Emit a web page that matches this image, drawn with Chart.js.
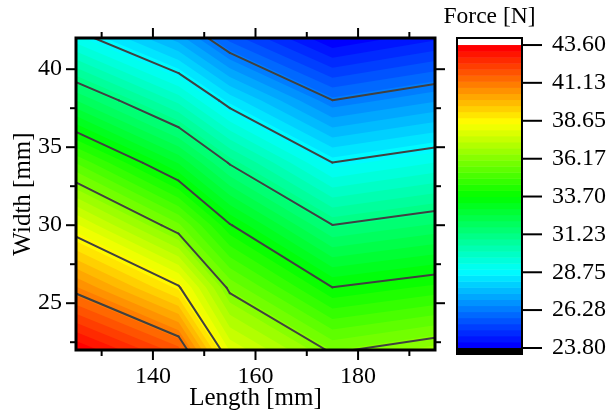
<!DOCTYPE html>
<html>
<head>
<meta charset="utf-8">
<script src="https://cdn.jsdelivr.net/npm/chart.js@4.4.1/dist/chart.umd.min.js"></script>
<style>
html, body { margin: 0; padding: 0; background: #fff; }
</style>
</head>
<body>
<canvas id="contour" width="612" height="413"></canvas>
<script>
// grid nodes of the measurement
const lengths = [125, 145, 155, 175, 195];
const widths = [22, 26, 30, 34, 38, 42];

// force [N] at each length, one row per width
const forceW22 = [43.60, 41.79, 38.00, 36.05, 36.65];
const forceW26 = [40.87, 38.74, 35.99, 33.71, 34.21];
const forceW30 = [38.15, 35.77, 33.75, 31.24, 31.78];
const forceW34 = [35.26, 32.87, 31.16, 28.76, 29.35];
const forceW38 = [32.12, 29.99, 28.41, 26.29, 26.92];
const forceW42 = [29.09, 27.16, 25.61, 23.80, 24.49];

const contourLevels = [26.28, 28.75, 31.23, 33.70, 36.17, 38.65, 41.13];
const colorTicks = [23.80, 26.28, 28.75, 31.23, 33.70, 36.17, 38.65, 41.13, 43.60];
const colorAxisRange = [23.67, 44.06];   // colour bar runs a little past the data for the end strips
const lengthTicks = [140, 160, 180];
const lengthMinor = [130, 150, 170, 190];
const widthTicks = [25, 30, 35, 40];
const widthMinor = [22.5, 27.5, 32.5, 37.5];

const nBands = 50;
const fMin = colorTicks[0], fMax = colorTicks[colorTicks.length - 1];
const fStep = (fMax - fMin) / nBands;
const grid = [forceW22, forceW26, forceW30, forceW34, forceW38, forceW42];

const FONT = 'Liberation Serif, Times New Roman, serif';

function rainbow(t) {
    const stops = [[0, 0, 255], [0, 255, 255], [0, 255, 0], [255, 255, 0], [255, 0, 0]];
    t = Math.min(Math.max(t, 0), 1) * 4;
    const k = Math.min(Math.floor(t), 3), f = t - k;
    const a = stops[k], b = stops[k + 1];
    const c = a.map((v, i) => Math.round(v + (b[i] - v) * f));
    return `rgb(${c[0]},${c[1]},${c[2]})`;
}
function bandColor(k) { return rainbow(k / (nBands - 1)); }

// region v >= level, one polygon per cell, all in one path
function levelPath(ctx, sx, sy, level) {
    ctx.beginPath();
    for (let j = 0; j < widths.length - 1; j++) {
        for (let i = 0; i < lengths.length - 1; i++) {
            const c = [[i, j], [i + 1, j], [i + 1, j + 1], [i, j + 1]];
            const pts = [];
            for (let k = 0; k < 4; k++) {
                const a = c[k], b = c[(k + 1) % 4];
                const va = grid[a[1]][a[0]], vb = grid[b[1]][b[0]];
                if (va >= level) pts.push([lengths[a[0]], widths[a[1]]]);
                if ((va >= level) !== (vb >= level)) {
                    const t = (level - va) / (vb - va);
                    pts.push([lengths[a[0]] + t * (lengths[b[0]] - lengths[a[0]]),
                              widths[a[1]] + t * (widths[b[1]] - widths[a[1]])]);
                }
            }
            if (pts.length < 3) continue;
            pts.forEach((p, n) => {
                const px = sx.getPixelForValue(p[0]), py = sy.getPixelForValue(p[1]);
                if (n === 0) ctx.moveTo(px, py); else ctx.lineTo(px, py);
            });
            ctx.closePath();
        }
    }
}

function contourSegments(level) {
    const segs = [];
    for (let j = 0; j < widths.length - 1; j++) {
        for (let i = 0; i < lengths.length - 1; i++) {
            const c = [[i, j], [i + 1, j], [i + 1, j + 1], [i, j + 1]];
            const cross = [];
            for (let k = 0; k < 4; k++) {
                const a = c[k], b = c[(k + 1) % 4];
                const va = grid[a[1]][a[0]], vb = grid[b[1]][b[0]];
                if ((va >= level) !== (vb >= level)) {
                    const t = (level - va) / (vb - va);
                    cross.push([lengths[a[0]] + t * (lengths[b[0]] - lengths[a[0]]),
                                widths[a[1]] + t * (widths[b[1]] - widths[a[1]])]);
                }
            }
            if (cross.length === 2) segs.push(cross);
            if (cross.length === 4) { segs.push([cross[0], cross[1]]); segs.push([cross[2], cross[3]]); }
        }
    }
    return segs;
}

const contourPlugin = {
    id: 'contour',
    beforeDatasetsDraw(chart) {
        const {ctx, chartArea: a, scales: {x, y}} = chart;
        ctx.save();
        ctx.beginPath();
        ctx.rect(a.left, a.top, a.right - a.left, a.bottom - a.top);
        ctx.clip();
        ctx.fillStyle = bandColor(0);
        ctx.fillRect(a.left, a.top, a.right - a.left, a.bottom - a.top);
        for (let k = 1; k < nBands; k++) {
            levelPath(ctx, x, y, fMin + k * fStep);
            ctx.fillStyle = bandColor(k);
            ctx.fill();
        }
        ctx.strokeStyle = '#404040';
        ctx.lineWidth = 2;
        ctx.lineCap = 'round';
        contourLevels.forEach(level => {
            contourSegments(level).forEach(s => {
                ctx.beginPath();
                ctx.moveTo(x.getPixelForValue(s[0][0]), y.getPixelForValue(s[0][1]));
                ctx.lineTo(x.getPixelForValue(s[1][0]), y.getPixelForValue(s[1][1]));
                ctx.stroke();
            });
        });
        ctx.restore();
    },
    afterDraw(chart) {
        const {ctx, chartArea: a, scales: {x, y, gap, cb}} = chart;
        ctx.save();
        ctx.strokeStyle = '#000';
        // ticks on all four sides
        ctx.lineWidth = 2;
        const tick = (x1, y1, x2, y2) => { ctx.beginPath(); ctx.moveTo(x1, y1); ctx.lineTo(x2, y2); ctx.stroke(); };
        lengthTicks.forEach(v => { const p = x.getPixelForValue(v); tick(p, a.bottom, p, a.bottom + 10); tick(p, a.top, p, a.top - 10); });
        lengthMinor.forEach(v => { const p = x.getPixelForValue(v); tick(p, a.bottom, p, a.bottom + 6); tick(p, a.top, p, a.top - 6); });
        widthTicks.forEach(v => { const p = y.getPixelForValue(v); tick(a.left, p, a.left - 10, p); tick(a.right, p, a.right + 10, p); });
        widthMinor.forEach(v => { const p = y.getPixelForValue(v); tick(a.left, p, a.left - 6, p); tick(a.right, p, a.right + 6, p); });
        ctx.lineWidth = 3;
        ctx.strokeRect(a.left, a.top, a.right - a.left, a.bottom - a.top);

        // colour bar, sitting in the gap box left of its axis labels
        const bx1 = gap.left + 22, bx2 = gap.left + 87;
        const top = cb.getPixelForValue(colorAxisRange[1]);
        const bot = cb.getPixelForValue(colorAxisRange[0]) + 4;
        ctx.fillStyle = '#fff';
        ctx.fillRect(bx1, top, bx2 - bx1, cb.getPixelForValue(fMax) - top);
        for (let k = 0; k < nBands; k++) {
            const y1 = cb.getPixelForValue(fMin + k * fStep);
            const y2 = cb.getPixelForValue(fMin + (k + 1) * fStep);
            ctx.fillStyle = bandColor(k);
            ctx.fillRect(bx1, y2, bx2 - bx1, y1 - y2 + 0.5);
        }
        ctx.fillStyle = '#000';
        ctx.fillRect(bx1, cb.getPixelForValue(fMin), bx2 - bx1, bot - cb.getPixelForValue(fMin));
        ctx.lineWidth = 2;
        ctx.strokeRect(bx1, top, bx2 - bx1, bot - top);
        colorTicks.forEach(v => { const p = cb.getPixelForValue(v); tick(bx2, p, bx2 + 20, p); });

        ctx.fillStyle = '#000';
        ctx.font = '23.5px ' + FONT;
        ctx.textAlign = 'center';
        ctx.textBaseline = 'alphabetic';
        ctx.fillText('Force [N]', (bx1 + bx2) / 2, 23);
        ctx.restore();
    }
};

const nodes = [];
widths.forEach((w, j) => lengths.forEach((l, i) => nodes.push({x: l, y: w})));

const tickFont = {family: FONT, size: 24};
const titleFont = {family: FONT, size: 25};

new Chart(document.getElementById('contour'), {
    type: 'scatter',
    data: {datasets: [{data: nodes, pointRadius: 0, pointHoverRadius: 0}]},
    options: {
        responsive: false,
        animation: false,
        devicePixelRatio: 1,
        layout: {padding: {top: 38, left: 0, right: 0, bottom: 0}},
        plugins: {legend: {display: false}, tooltip: {enabled: false}},
        events: [],
        scales: {
            x: {
                type: 'linear', position: 'bottom', min: 125, max: 195,
                grid: {display: false, drawTicks: false}, border: {display: false},
                afterBuildTicks: s => { s.ticks = lengthTicks.map(v => ({value: v})); },
                afterFit: s => { s.height = 63; },
                ticks: {font: tickFont, color: '#000', padding: 12, maxRotation: 0},
                title: {display: true, text: 'Length [mm]', font: titleFont, color: '#000', padding: {top: 0, bottom: 0}}
            },
            y: {
                type: 'linear', position: 'left', min: 22, max: 42,
                grid: {display: false, drawTicks: false}, border: {display: false},
                afterBuildTicks: s => { s.ticks = widthTicks.map(v => ({value: v})); },
                afterFit: s => { s.width = 76; },
                ticks: {font: tickFont, color: '#000', padding: 14},
                title: {display: true, text: 'Width [mm]', font: titleFont, color: '#000', padding: {top: 8, bottom: 0}}
            },
            gap: {
                type: 'linear', position: 'right', weight: 0, min: 0, max: 1,
                grid: {display: false, drawTicks: false}, border: {display: false},
                ticks: {display: false},
                afterFit: s => { s.width = 107; }
            },
            cb: {
                type: 'linear', position: 'right', weight: 1, min: colorAxisRange[0], max: colorAxisRange[1],
                grid: {display: false, drawTicks: false}, border: {display: false},
                afterBuildTicks: s => { s.ticks = colorTicks.map(v => ({value: v})); },
                afterFit: s => { s.width = 70; },
                ticks: {font: tickFont, color: '#000', padding: 10, autoSkip: false,
                        callback: v => Number(v).toFixed(2)}
            }
        }
    },
    plugins: [contourPlugin]
});
</script>
</body>
</html>
